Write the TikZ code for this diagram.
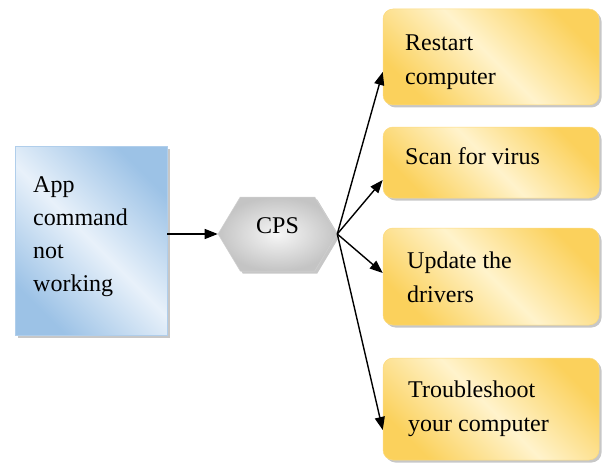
\documentclass[tikz,border=0pt]{standalone}
\usepackage{fontspec}
\setmainfont{Liberation Serif}
\usetikzlibrary{arrows.meta,shapes.symbols,shadows}

\definecolor{bluedark}{HTML}{9CC2E6}
\definecolor{bluelight}{HTML}{E8F1FA}
\definecolor{golddark}{HTML}{FBD15C}
\definecolor{goldlight}{HTML}{FFF3CC}
\definecolor{greydark}{HTML}{C4C4C4}
\definecolor{greylight}{HTML}{F6F6F6}

\tikzset{
  boxshadow/.style={drop shadow={shadow xshift=2.5pt,shadow yshift=-2.5pt,opacity=.4,fill=black!55}},
  problem/.style={rectangle, boxshadow, draw=bluedark!80, line width=.6pt,
    left color=bluedark, right color=bluedark, middle color=bluelight, shading angle=135,
    minimum width=152pt, minimum height=189pt, inner sep=0pt},
  hub/.style={signal, signal to=west and east, signal pointer angle=118, boxshadow,
    draw=greydark!80, line width=.5pt, inner color=greylight, outer color=greydark,
    minimum width=119pt, minimum height=74pt, inner sep=0pt, text depth=16pt,
    font=\fontsize{24}{24}\selectfont},
  action/.style={rectangle, rounded corners=10pt, boxshadow, draw=golddark!80, line width=.5pt,
    left color=golddark, right color=golddark, middle color=goldlight, shading angle=135,
    minimum width=216pt, inner sep=0pt},
  caption/.style={anchor=north west, inner sep=0pt, align=left,
    font=\fontsize{24}{34}\selectfont},
  link/.style={line width=1.4pt, -{Triangle[length=13pt,width=10pt]}},
}

\begin{document}
\begin{tikzpicture}[x=1pt,y=1pt]
  \useasboundingbox (0,0) rectangle (608,467);

  % left problem box and central hub
  \node[problem] (app) at (91,226.5) {};
  \node[caption, font=\fontsize{24}{33}\selectfont] (apptext) at (33,291) {App\\command\\not\\working};
  \node[hub] (cps) at (277.5,233) {CPS};

  % right column of suggested actions
  \node[action, minimum height=96pt] (b1) at (491,410) {};
  \node[action, minimum height=71pt] (b2) at (491,304.5) {};
  \node[action, minimum height=97pt] (b3) at (491,190.5) {};
  \node[action, minimum height=102pt] (b4) at (491,58) {};

  \node[caption] (t1) at (405,432) {Restart\\computer};
  \node[caption] (t2) at (405,320) {Scan for virus};
  \node[caption] (t3) at (407,215) {Update the\\drivers};
  \node[caption] (t4) at (408,86) {Troubleshoot\\your computer};

  % connectors
  \draw[link] (cps.west -| app.east) -- (cps.west);
  \draw[link] (cps.east) -- ([yshift=-15pt]b1.west);
  \draw[link] (cps.east) -- ([yshift=-17.5pt]b2.west);
  \draw[link] (cps.east) -- ([yshift=3.5pt]b3.west);
  \draw[link] (cps.east) -- ([yshift=-21pt]b4.west);
\end{tikzpicture}
\end{document}
